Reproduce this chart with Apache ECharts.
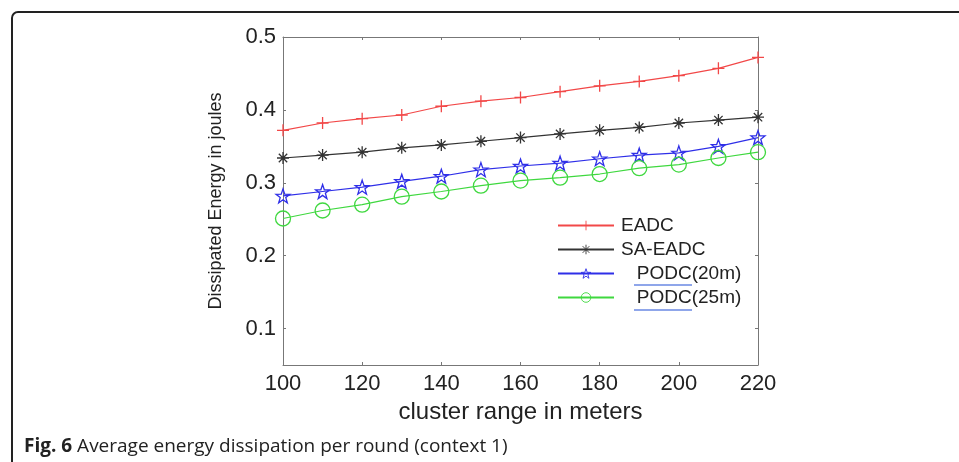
<!DOCTYPE html>
<html>
<head>
<meta charset="utf-8">
<script src="https://cdn.jsdelivr.net/npm/echarts@6/dist/echarts.min.js"></script>
<style>
  html, body { margin: 0; padding: 0; background: #fff; }
  #chart { width: 959px; height: 462px; }
</style>
</head>
<body>
<div id="chart"></div>
<script>
// cluster range (m)
var ranges = [100, 110, 120, 130, 140, 150, 160, 170, 180, 190, 200, 210, 220];
var eadc = [0.372, 0.382, 0.388, 0.393, 0.405, 0.412, 0.417, 0.425, 0.433, 0.439, 0.447, 0.457, 0.472];
var saEadc = [0.334, 0.338, 0.342, 0.348, 0.352, 0.357, 0.362, 0.367, 0.372, 0.376, 0.382, 0.386, 0.390];
var podc20 = [0.282, 0.288, 0.294, 0.302, 0.309, 0.318, 0.323, 0.327, 0.333, 0.338, 0.341, 0.350, 0.362];
var podc25 = [0.251, 0.262, 0.270, 0.281, 0.288, 0.296, 0.303, 0.307, 0.312, 0.320, 0.325, 0.334, 0.342];
var yTicks = [0.1, 0.2, 0.3, 0.4, 0.5];

function pairs(vals) {
    var out = [];
    for (var i = 0; i < ranges.length; i++) {
        out.push([ranges[i], vals[i]]);
    }
    return out;
}

var plusPath = 'path://M0,5L10,5M5,0L5,10';
var starPath = 'path://M10,0L12.35,6.76L19.51,6.91L13.8,11.24L15.88,18.09L10,14L4.12,18.09L6.2,11.24L0.49,6.91L7.65,6.76Z';
var asterPath = 'path://M5,0L5,10M0,5L10,5M1.5,1.5L8.5,8.5M8.5,1.5L1.5,8.5';

function mkSeries(name, vals, color, symbol, size) {
    return {
        name: name,
        type: 'line',
        data: pairs(vals),
        symbol: symbol,
        symbolSize: size,
        showAllSymbol: true,
        animation: false,
        lineStyle: {color: color, width: 1.2},
        itemStyle: {color: 'rgba(255,255,255,0)', borderColor: color, borderWidth: 1.3},
        emphasis: {disabled: true}
    };
}

var axisCol = '#777';
var fontFam = 'Liberation Sans, Arial, sans-serif';

var myChart = echarts.init(document.getElementById('chart'), null, {renderer: 'canvas'});
var option = {
    backgroundColor: '#fff',
    animation: false,
    grid: {left: 283, top: 37, right: 201, bottom: 97},
    legend: {
        orient: 'vertical',
        left: 557,
        top: 216,
        padding: 0,
        itemWidth: 56,
        itemHeight: 12,
        itemGap: 5,
        itemStyle: {color: 'rgba(255,255,255,0)', borderWidth: 0.9},
        textStyle: {color: '#222', fontSize: 19, lineHeight: 19, fontFamily: fontFam, padding: [0, 0, 0, 2]},
        formatter: function (name) {
            return name.indexOf('PODC') === 0 ? '   ' + name : name;
        },
        data: ['EADC', 'SA-EADC', 'PODC(20m)', 'PODC(25m)']
    },
    xAxis: [{
        type: 'value',
        min: 100,
        max: 220,
        interval: 20,
        name: 'cluster range in meters',
        nameLocation: 'middle',
        nameGap: 34,
        nameTextStyle: {color: '#222', fontSize: 24, fontFamily: fontFam},
        axisLine: {show: true, lineStyle: {color: axisCol, width: 1}},
        axisTick: {show: true, inside: true, length: 3, lineStyle: {color: axisCol}},
        axisLabel: {margin: 8, color: '#222', fontSize: 22, fontFamily: fontFam},
        splitLine: {show: false}
    }, {
        type: 'value',
        position: 'top',
        min: 100,
        max: 220,
        interval: 20,
        axisLine: {show: true, onZero: false, lineStyle: {color: axisCol, width: 1}},
        axisTick: {show: true, inside: true, length: 3, lineStyle: {color: axisCol}},
        axisLabel: {show: false},
        splitLine: {show: false}
    }],
    yAxis: [{
        type: 'value',
        min: 0.05,
        max: 0.5,
        name: 'Dissipated Energy in joules',
        nameLocation: 'middle',
        nameGap: 58,
        nameTextStyle: {color: '#222', fontSize: 18, fontFamily: fontFam},
        axisLine: {show: true, lineStyle: {color: axisCol, width: 1}},
        axisTick: {show: true, inside: true, length: 3, customValues: yTicks, lineStyle: {color: axisCol}},
        axisLabel: {margin: 7, customValues: yTicks, color: '#222', fontSize: 22, fontFamily: fontFam},
        splitLine: {show: false}
    }, {
        type: 'value',
        position: 'right',
        min: 0.05,
        max: 0.5,
        axisLine: {show: true, onZero: false, lineStyle: {color: axisCol, width: 1}},
        axisTick: {show: true, inside: true, length: 3, customValues: yTicks, lineStyle: {color: axisCol}},
        axisLabel: {show: false, customValues: yTicks},
        splitLine: {show: false}
    }],
    series: [
        mkSeries('EADC', eadc, '#f24848', plusPath, 12),
        mkSeries('SA-EADC', saEadc, '#333333', asterPath, 12),
        mkSeries('PODC(20m)', podc20, '#2f2fe8', starPath, 14),
        mkSeries('PODC(25m)', podc25, '#3fd83f', 'circle', 15)
    ],
    graphic: [
        {
            type: 'rect',
            shape: {x: 12, y: 12, width: 1000, height: 500, r: 6},
            style: {fill: 'none', stroke: '#222', lineWidth: 2},
            silent: true
        },
        {
            type: 'line',
            shape: {x1: 634, y1: 285, x2: 692, y2: 285},
            style: {stroke: '#8fa6ea', lineWidth: 2},
            silent: true
        },
        {
            type: 'line',
            shape: {x1: 634, y1: 310, x2: 692, y2: 310},
            style: {stroke: '#8fa6ea', lineWidth: 2},
            silent: true
        },
        {
            type: 'text',
            left: 24,
            top: 437,
            style: {
                text: '{b|Fig. 6} Average energy dissipation per round (context 1)',
                font: '19px "Open Sans", sans-serif',
                fill: '#222',
                rich: {
                    b: {fontWeight: 'bold', fontSize: 19, fontFamily: '"Open Sans", sans-serif', fill: '#222'}
                }
            }
        }
    ]
};
myChart.setOption(option, true);
</script>
</body>
</html>
